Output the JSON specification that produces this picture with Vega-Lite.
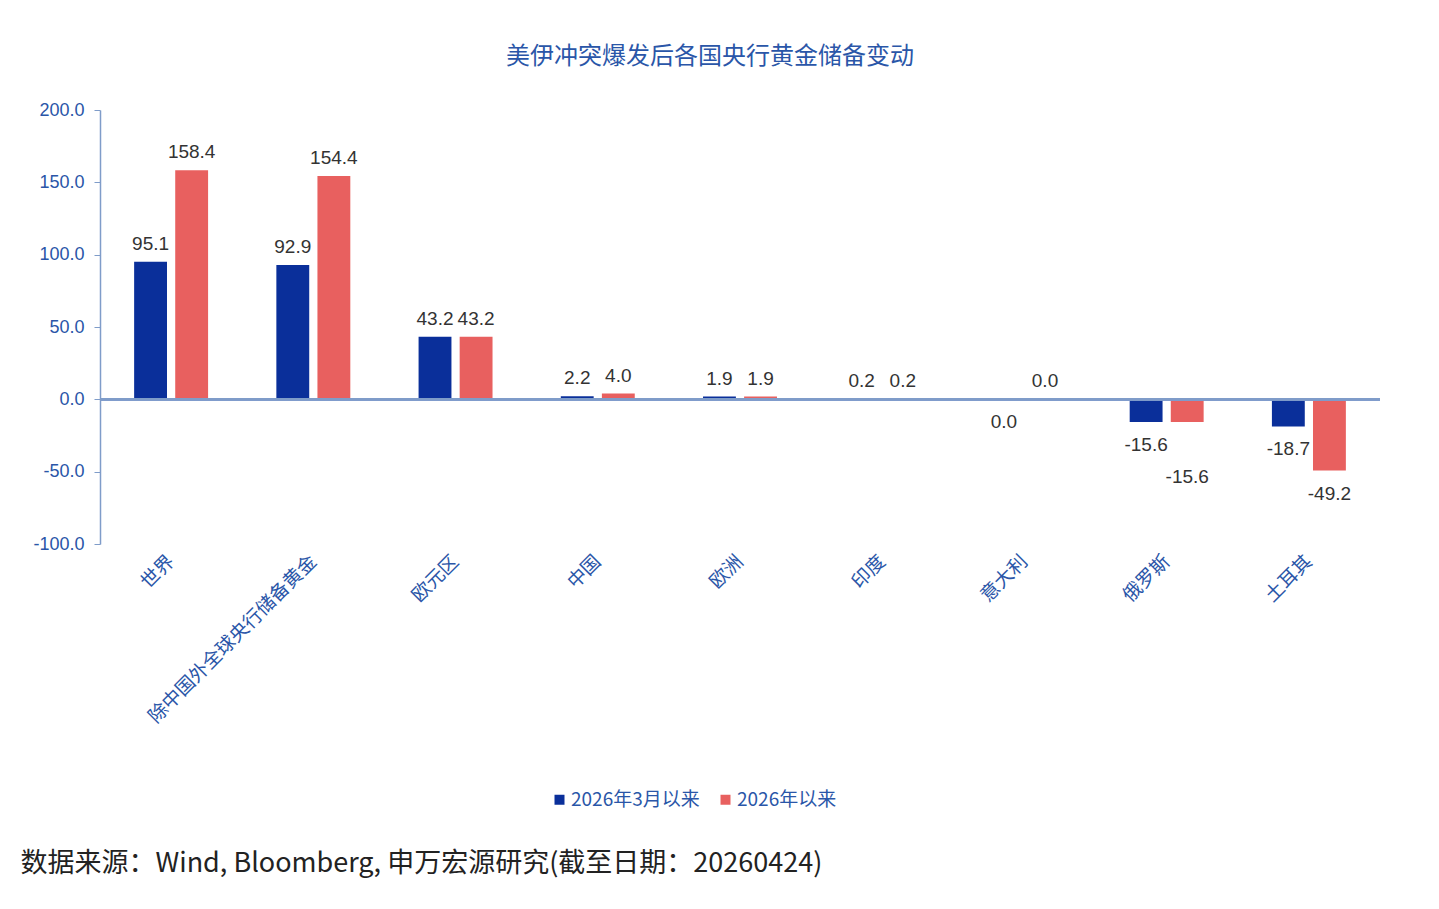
{
  "$schema": "https://vega.github.io/schema/vega-lite/v6.json",
  "width": 1280,
  "height": 434,
  "autosize": "none",
  "padding": {"left": 100, "top": 110, "right": 59, "bottom": 365},
  "background": "white",
  "config": {"view": {"stroke": null}},
  "title": {"text": "美伊冲突爆发后各国央行黄金储备变动", "color": "#2a56a8", "fontSize": 24, "font": "Noto Sans CJK SC", "fontWeight": "normal", "offset": 32, "anchor": "middle", "dx": -30},
  "data": {"values": [
    {"c": "世界", "s": "2026年3月以来", "v": 95.1, "lab": "95.1"},
    {"c": "世界", "s": "2026年以来", "v": 158.4, "lab": "158.4"},
    {"c": "除中国外全球央行储备黄金", "s": "2026年3月以来", "v": 92.9, "lab": "92.9"},
    {"c": "除中国外全球央行储备黄金", "s": "2026年以来", "v": 154.4, "lab": "154.4"},
    {"c": "欧元区", "s": "2026年3月以来", "v": 43.2, "lab": "43.2"},
    {"c": "欧元区", "s": "2026年以来", "v": 43.2, "lab": "43.2"},
    {"c": "中国", "s": "2026年3月以来", "v": 2.2, "lab": "2.2"},
    {"c": "中国", "s": "2026年以来", "v": 4.0, "lab": "4.0"},
    {"c": "欧洲", "s": "2026年3月以来", "v": 1.9, "lab": "1.9"},
    {"c": "欧洲", "s": "2026年以来", "v": 1.9, "lab": "1.9"},
    {"c": "印度", "s": "2026年3月以来", "v": 0.2, "lab": "0.2"},
    {"c": "印度", "s": "2026年以来", "v": 0.2, "lab": "0.2"},
    {"c": "意大利", "s": "2026年3月以来", "v": 0.0, "lab": "0.0"},
    {"c": "意大利", "s": "2026年以来", "v": 0.0, "lab": "0.0"},
    {"c": "俄罗斯", "s": "2026年3月以来", "v": -15.6, "lab": "-15.6"},
    {"c": "俄罗斯", "s": "2026年以来", "v": -15.6, "lab": "-15.6"},
    {"c": "土耳其", "s": "2026年3月以来", "v": -18.7, "lab": "-18.7"},
    {"c": "土耳其", "s": "2026年以来", "v": -49.2, "lab": "-49.2"}
  ]},
  "encoding": {
    "x": {"field": "c", "type": "nominal", "sort": null,
      "scale": {"paddingInner": 0.48, "paddingOuter": 0.24},
      "axis": {"title": "数据来源：Wind, Bloomberg, 申万宏源研究(截至日期：20260424)", "titleFont": "Noto Sans CJK SC", "titleFontSize": 27, "titleFontWeight": "normal", "titleColor": "#222", "titleAnchor": "start", "titleX": -80, "titleY": 306,
        "labelAngle": -45, "labelAlign": "right", "labelBaseline": "middle", "labelFont": "Noto Sans CJK SC", "labelFontSize": 19, "labelColor": "#2a56a8", "labelPadding": 14, "labelLimit": 0, "domain": false, "ticks": false}},
    "xOffset": {"field": "s", "type": "nominal", "sort": ["2026年3月以来", "2026年以来"], "scale": {"paddingInner": 0.2}},
    "y": {"field": "v", "type": "quantitative", "scale": {"domain": [-100, 200], "nice": false},
      "axis": {"title": null, "values": [-100, -50, 0, 50, 100, 150, 200], "format": ".1f", "labelExpr": "replace(datum.label, '−', '-')", "grid": false, "labelFont": "Liberation Sans", "labelFontSize": 18, "labelColor": "#2a56a8", "domainColor": "#7f9cc9", "tickColor": "#7f9cc9", "labelPadding": 10, "tickSize": 6, "domainWidth": 1.5}},
    "color": {"field": "s", "type": "nominal", "sort": ["2026年3月以来", "2026年以来"],
      "scale": {"domain": ["2026年3月以来", "2026年以来"], "range": ["#0a2f9a", "#e8605f"]},
      "legend": {"title": null, "orient": "none", "legendX": 450, "legendY": 680, "direction": "horizontal", "symbolType": "square", "symbolSize": 100, "labelFont": "Noto Sans CJK SC", "labelFontSize": 19, "labelColor": "#2a56a8", "columnPadding": 16, "symbolOffset": 0, "labelOffset": 2}}
  },
  "layer": [
    {"mark": {"type": "bar"}},
    {"mark": {"type": "rule", "color": "#7f9cc9", "strokeWidth": 2}, "encoding": {"y": {"datum": 0}, "x": {}, "xOffset": {}, "color": {}}},
    {"transform": [{"filter": "datum.v >= 0 && !(datum.c == '意大利' && datum.s == '2026年3月以来')"}],
     "mark": {"type": "text", "baseline": "bottom", "dy": -8, "fontSize": 19, "font": "Liberation Sans"},
     "encoding": {"text": {"field": "lab"}, "color": {"value": "#333"}}},
    {"transform": [{"filter": "(datum.v < 0 && !(datum.c == '俄罗斯' && datum.s == '2026年以来')) || (datum.c == '意大利' && datum.s == '2026年3月以来')"}],
     "mark": {"type": "text", "baseline": "top", "dy": 14, "fontSize": 19, "font": "Liberation Sans"},
     "encoding": {"text": {"field": "lab"}, "color": {"value": "#333"}}},
    {"transform": [{"filter": "datum.c == '俄罗斯' && datum.s == '2026年以来'"}],
     "mark": {"type": "text", "baseline": "top", "dy": 46, "fontSize": 19, "font": "Liberation Sans"},
     "encoding": {"text": {"field": "lab"}, "color": {"value": "#333"}}}
  ]
}
